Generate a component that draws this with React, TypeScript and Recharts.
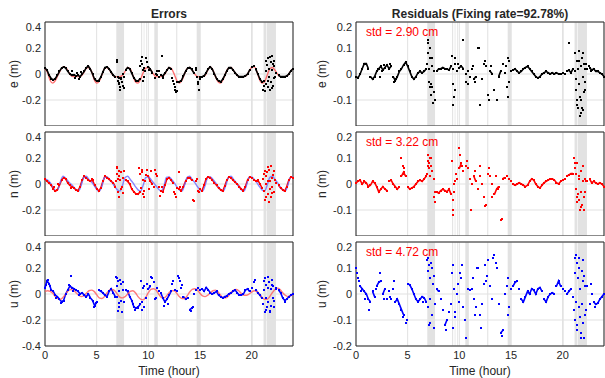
import { ComposedChart, Scatter, Line, XAxis, YAxis, CartesianGrid, ReferenceArea } from 'recharts';

// time grid steps (hours)
const DOT_STEP = 0.2;
const MODEL_STEP = 0.25;

const HOUR_TICKS = [0, 5, 10, 15, 20];
const ERR_TICKS = [-0.4, -0.2, 0, 0.2, 0.4];
const RES_TICKS = [-0.2, -0.1, 0, 0.1, 0.2];

// shaded (re-convergence) periods, hours
const BANDS = [
  [6.9, 7.65], [9.3, 9.4], [9.55, 9.62], [9.8, 9.88], [10.58, 10.92],
  [12.7, 12.8], [14.68, 15.05], [19.95, 20.1], [21.15, 21.4], [21.45, 22.35],
];

const STD_LABELS = ['std = 2.90 cm', 'std = 3.22 cm', 'std = 4.72 cm'];

// ---- east ----
const E_MODEL = [
  .04, .01, -.05, -.07, -.05, -.01, .03, .055,
  .05, .02, -.01, -.02, -.02, -.02, -.015, .01,
  .045, .05, .02, -.04, -.07, -.055, -.01, .04,
  .05, .03, 0, -.02, -.02, -.02, -.01, .02,
  .05, .04, -.01, -.06, -.07, -.04, .01, .045,
  .05, .03, 0, -.02, -.02, -.02, -.01, .02,
  .05, .04, 0, -.05, -.07, -.05, 0, .04,
  .05, .03, 0, -.02, -.02, -.02, -.01, .03,
  .055, .03, -.02, -.06, -.07, -.04, .01, .045,
  .05, .025, 0, -.02, -.02, -.02, -.01, .02,
  .05, .055, .02, -.04, -.07, -.06, -.01, .04,
  .05, .03, 0, -.02, -.02, -.02, -.01, .02,
  .04,
];
const E_ERR = [
  .045, .03, -.01, -.035, -.045, -.035, -.01, .02, .045, .055,
  .045, .02, 0, -.01, -.005, -.015, -.01, -.02, 0, .02,
  .05, .06, .035, 0, -.04, -.055, -.05, -.025, .015, .05,
  .055, .04, .015, -.01, -.02, .09, -.08, -.03, -.11, .03,
  .05, .04, .005, -.03, -.05, -.055, -.035, .08, -.02, .12,
  .055, .035, .01, -.03, .02, -.02, -.01, -.015, .005, .03,
  .05, .04, -.05, -.1, -.13, -.06, -.05, -.015, .02, .045,
  .05, .035, .01, .03, -.06, -.02, -.02, -.015, .01, .04,
  .055, .035, 0, -.035, -.055, -.06, -.04, -.01, .025, .05,
  .05, .03, .01, -.01, -.02, -.02, -.02, -.015, 0, .03,
  .055, .06, .035, 0, -.04, -.06, -.09, .1, -.05, .13,
  -.11, .06, .01, -.01, -.02, -.02, -.02, -.015, 0, .025,
  .04,
];
const E_ERR_OUT = [
  [2.6, .02], [2.9, -.03], [3.1, .01], [3.3, -.035], [3.5, .015],
  [6.95, .1], [7.0, .11], [7.05, -.02], [7.1, -.05], [7.15, -.07], [7.2, -.03], [7.25, -.1], [7.3, -.12],
  [7.35, -.04], [7.45, -.06], [7.5, 0], [7.55, -.09], [7.6, -.02],
  [9.2, .06], [9.3, .1], [9.4, .13], [9.45, .03], [9.5, -.05], [9.55, .05], [9.7, .02], [9.9, .09],
  [10.1, .03], [10.7, 0], [10.8, -.01], [11.0, .02], [11.3, .14], [11.4, -.03],
  [12.3, -.03], [12.5, -.08], [12.6, -.12], [12.7, -.14], [12.75, -.06],
  [14.6, .05], [14.7, -.02], [14.8, -.08], [14.9, -.12], [15.0, -.04],
  [21.1, -.12], [21.2, -.05], [21.3, -.13], [21.35, .02], [21.4, -.08], [21.5, .07], [21.55, -.1],
  [21.6, .12], [21.65, -.02], [21.7, .04], [21.75, -.12], [21.85, .09], [21.9, -.06], [21.95, .14],
  [22.0, .03], [22.05, -.09], [22.1, .08], [22.15, -.03], [22.2, .1], [22.3, -.02],
];
const E_RES = [
  -.01, -.015, 0, .02, .04, .04, .02, -.01, -.02, -.01,
  .01, .02, .03, .015, .025, .035, .02, .03, -.01, -.025,
  -.01, .01, .02, .035, .045, .03, .01, -.01, -.02, -.01,
  .005, .01, .005, .01, .02, .12, -.05, .06, -.1, .01,
  .02, .02, .025, .02, .02, .015, .03, -.12, .06, .01,
  .025, .03, .02, -.03, .01, -.01, .02, -.02, -.01, .1,
  -.12, -.02, .04, .03, -.08, .01, 0, -.06, -.1, -.01,
  .01, .04, .005, -.05, .05, .01, .015, .02, .01, .005,
  .01, .02, .025, .03, .02, .01, 0, -.01, -.015, -.01,
  0, .005, .01, .005, 0, .005, 0, .005, 0, 0,
  .005, 0, .01, .015, .005, .02, .01, -.1, .05, -.15,
  .08, -.06, .02, .025, .015, .02, .01, .01, .005, 0,
  -.01,
];
const E_RES_OUT = [
  [2.1, .02], [2.3, -.01], [2.5, .01], [2.7, .035], [3.3, .04], [3.7, -.03], [3.9, -.02],
  [6.9, .04], [6.95, .13], [7.0, .08], [7.05, .02], [7.1, -.03], [7.15, .1], [7.2, .06], [7.25, -.04],
  [7.3, -.08], [7.35, .03], [7.4, -.05], [7.45, -.11], [7.5, .01], [7.55, -.07],
  [9.3, .07], [9.35, -.04], [9.4, .02], [9.5, -.09], [9.55, .04], [9.6, -.06], [9.9, .04],
  [10.4, .13], [10.6, 0], [10.8, -.04], [11.3, .03], [11.5, -.03], [11.9, .1], [12.5, .05],
  [12.9, -.1], [13.1, .03], [14.5, .03], [14.7, -.09], [14.75, .06], [14.8, -.03], [20.6, .12],
  [21.2, .08], [21.25, -.02], [21.3, -.06], [21.35, .05], [21.4, -.12], [21.45, .02], [21.5, -.13],
  [21.55, -.04], [21.6, .09], [21.65, -.09], [21.7, -.16], [21.75, .03], [21.8, -.1], [21.85, .06],
  [21.9, -.13], [21.95, -.01], [22.0, -.14], [22.05, .04], [22.1, -.07], [22.15, .02], [22.2, -.03],
  [22.3, .04], [22.5, .03], [22.7, .01],
];

// ---- north ----
const N_MODEL = [
  .04, .03, .01, -.02, -.05, -.04, .02, .06,
  .045, .02, 0, -.02, -.045, -.055, -.01, .05,
  .06, .035, .015, -.01, -.04, -.055, -.02, .05,
  .055, .035, .01, -.02, -.045, -.055, -.01, .05,
  .06, .035, .01, -.02, -.045, -.055, -.01, .05,
  .055, .035, .01, -.015, -.04, -.055, -.02, .05,
  .055, .035, .01, -.02, -.045, -.055, -.01, .05,
  .06, .035, .01, -.02, -.045, -.055, -.01, .05,
  .055, .035, .01, -.02, -.045, -.055, -.01, .05,
  .06, .035, .01, -.02, -.045, -.055, -.01, .05,
  .055, .035, .01, -.02, -.045, -.055, -.01, .05,
  .06, .035, .01, -.02, -.045, -.055, -.01, .05,
  .055,
];
const N_ERR = [
  .04, .02, .01, -.01, -.035, -.055, -.045, -.01, .03, .05,
  .04, .01, -.01, -.02, -.03, -.045, -.05, -.02, .03, .06,
  .05, .03, .02, .03, -.01, -.035, -.055, -.03, .02, .06,
  .05, .035, .02, .01, -.02, .12, .06, -.04, .1, .03,
  .02, 0, -.04, -.06, -.075, -.08, -.06, .09, -.05, .07,
  .06, .02, 0, .11, .06, -.02, -.05, -.06, -.01, .04,
  .05, .03, .01, -.08, -.03, -.04, -.05, -.02, .02, .05,
  .05, .03, -.13, .02, -.05, -.04, -.05, -.01, .04, .055,
  .05, .03, .01, -.01, -.03, -.045, -.055, -.015, .03, .055,
  .05, .03, .015, 0, -.02, -.04, -.05, -.02, .03, .055,
  .05, .03, .02, .03, 0, -.03, .08, -.1, .13, .02,
  -.07, .1, .01, -.01, -.03, -.045, -.055, -.02, .03, .055,
  .05,
];
const N_ERR_OUT = [
  [0.9, -.02], [1.3, 0], [2.5, -.03], [4.5, .04],
  [6.9, .02], [6.95, .08], [7.0, .13], [7.05, .04], [7.1, -.06], [7.15, .1], [7.2, -.1], [7.25, .03],
  [7.35, .09], [7.45, -.02], [7.5, .05], [7.55, -.07],
  [9.1, .12], [9.2, .08], [9.3, -.03], [9.35, .11], [9.45, -.08], [9.5, .03], [9.55, -.1], [9.7, .02],
  [9.9, .11], [10.1, -.04], [10.3, .1], [10.5, -.02], [10.7, .08], [11.1, -.09], [11.3, -.02],
  [12.5, -.06], [12.7, -.1], [13.0, .09], [13.1, -.02], [14.3, -.12], [14.7, .04], [14.9, -.06],
  [21.1, .04], [21.2, -.05], [21.25, .1], [21.3, -.12], [21.35, .06], [21.4, 0], [21.5, .09],
  [21.55, -.08], [21.6, .02], [21.65, -.14], [21.7, .11], [21.8, -.04], [21.85, .14], [21.9, -.1],
  [21.95, .05], [22.0, -.02], [22.1, .07], [22.15, -.06], [22.25, .03],
];
const N_RES = [
  .005, .01, .015, 0, .01, .005, -.01, -.005, .01, .005,
  -.01, -.03, -.02, -.01, -.02, -.025, .01, .015, 0, -.01,
  -.02, -.01, .03, .045, .03, -.01, -.02, -.015, -.01, 0,
  .01, .015, .01, .02, .03, .07, .1, .05, -.07, -.03,
  -.035, -.025, -.02, -.025, -.03, -.02, -.04, -.1, .01, .02,
  .06, .08, .05, .07, .06, .02, 0, .03, .01, -.02,
  .03, 0, -.05, -.08, .04, .03, 0, -.04, -.02, -.01,
  -.14, .02, .025, .03, .02, .01, 0, -.005, 0, .005,
  0, -.005, -.01, -.005, .01, .02, .015, 0, -.01, -.015,
  -.005, .005, .01, .015, .02, .02, .015, .005, 0, .01,
  .015, .02, .03, .035, .04, .04, .08, -.05, .03, -.09,
  .01, -.03, .01, .02, .005, .01, .005, 0, .005, 0,
  -.01,
];
const N_RES_OUT = [
  [4.4, .1], [4.5, .07], [4.6, .06],
  [6.9, .04], [6.95, .09], [7.0, .11], [7.05, .06], [7.1, .08], [7.15, .03], [7.25, .1], [7.3, .07],
  [7.35, .05], [7.5, .02], [7.55, -.05], [7.6, -.03],
  [9.3, .09], [9.35, -.06], [9.4, -.12], [9.45, -.03], [9.5, 0], [9.7, .04], [10.0, .14], [10.1, .11],
  [10.3, .07], [10.7, .09], [11.1, -.1], [11.5, .05], [12.0, .07], [12.5, -.085], [12.9, .06],
  [13.2, -.05], [13.5, .03], [13.7, -.02], [14.1, -.135],
  [21.1, .1], [21.2, .06], [21.25, -.02], [21.3, .04], [21.35, -.07], [21.4, .08], [21.5, -.04],
  [21.55, .02], [21.6, -.06], [21.7, -.1], [21.75, .05], [21.8, -.03], [21.9, -.08], [22.0, .07],
  [22.05, -.05], [22.1, -.1], [22.2, .02], [22.3, .01],
];

// ---- up ----
const U_MODEL = [
  .02, .025, .02, .005, -.02, -.035, -.04, -.025,
  0, .025, .035, .03, .01, -.01, -.02, -.015,
  .005, .025, .03, .02, -.005, -.03, -.035, -.02,
  .01, .03, .035, .025, 0, -.025, -.03, -.02,
  0, .02, .025, .01, -.02, -.04, -.045, -.025,
  .01, .035, .04, .03, 0, -.025, -.03, -.015,
  .01, .025, .025, .005, -.02, -.035, -.035, -.015,
  .015, .035, .04, .03, .005, -.015, -.02, -.01,
  .01, .025, .03, .015, -.01, -.03, -.03, -.015,
  .01, .03, .035, .025, .005, -.01, -.01, 0,
  .015, .025, .02, 0, -.025, -.04, -.04, -.02,
  .01, .035, .045, .035, .01, -.01, -.02, -.015,
  -.005,
];
const U_ERR = [
  .05, .1, .08, .03, .02, -.01, -.02, -.04, -.06, -.05,
  0, .03, .06, .05, .04, .03, .02, 0, .01, -.01,
  -.02, 0, -.03, -.05, -.09, -.06, .03, .02, .01, -.01,
  -.02, .02, .04, .01, -.02, .12, -.1, .08, -.06, .03,
  .02, -.02, -.05, -.1, -.11, -.1, -.08, -.12, .06, -.03,
  .04, .06, .12, -.04, .05, .02, .01, -.03, -.06, -.04,
  -.01, .02, .1, .03, .02, .12, .05, -.02, -.04, -.03,
  -.12, -.11, 0, .03, .05, .03, .04, .02, .05, .03,
  .01, 0, .01, .02, -.01, -.02, -.03, -.02, -.015, 0,
  .01, .02, .03, .01, -.01, -.01, 0, .03, .04, .02,
  .05, .09, .03, .01, -.01, -.03, .1, -.12, .05, -.14,
  .07, -.05, .04, .03, .01, -.03, -.05, -.04, -.02, -.01,
  0,
];
const U_ERR_OUT = [
  [0.1, .07], [0.3, .11], [0.5, .06], [1.1, -.03], [1.5, -.07], [2.3, .07], [2.5, .14], [2.7, .02],
  [3.3, -.01], [4.7, -.1], [4.9, -.07],
  [6.9, .13], [6.95, -.02], [7.0, .06], [7.05, -.13], [7.1, .1], [7.15, -.07], [7.2, .02], [7.3, .11],
  [7.35, -.05], [7.45, -.14], [7.5, .03], [7.55, .09],
  [8.5, -.08], [8.7, -.12], [9.0, -.11], [9.3, .1], [9.35, -.06], [9.5, .05], [9.55, -.1], [9.9, .08],
  [10.3, .13], [10.5, .09], [10.7, -.03], [11.5, -.09], [11.9, -.08], [12.3, .08], [12.9, .14],
  [13.1, .1], [13.3, .07], [14.1, -.13], [14.3, -.1], [20.3, .11],
  [21.1, -.08], [21.2, .03], [21.25, -.14], [21.3, .12], [21.35, -.03], [21.4, .07], [21.5, -.1],
  [21.55, .13], [21.6, -.06], [21.7, .09], [21.75, -.13], [21.85, .04], [21.9, -.09], [22.0, .11],
  [22.05, -.03], [22.1, .06], [22.2, -.1], [22.4, .05], [23.2, -.06],
];
const U_RES = [
  .1, .06, .03, .02, .01, 0, -.02, -.03, .01, -.01,
  .03, .045, .05, 0, .02, -.02, .01, -.02, .02, -.03,
  -.02, -.04, -.06, -.08, -.11, .04, .035, .02, 0, -.02,
  -.03, -.02, -.01, -.015, -.03, .14, -.11, .1, -.04, .02,
  .01, -.02, -.06, -.12, -.1, -.07, -.04, .11, -.09, 0,
  -.03, .06, -.05, -.17, .02, .015, .02, -.02, -.05, .1,
  -.08, -.04, .04, .05, .13, .03, -.02, .15, .1, -.04,
  -.15, -.14, 0, .03, -.05, .02, .03, .045, .05, .02,
  -.02, -.03, -.01, .01, 0, .02, .015, 0, .02, .025,
  .01, -.02, -.03, -.01, 0, .005, 0, .03, .05, .03,
  .02, .01, 0, .01, .02, -.01, .14, -.12, .1, -.17,
  .05, -.08, .03, -.04, 0, -.03, -.04, -.035, -.02, -.01,
  0,
];
const U_RES_OUT = [
  [0.1, .08], [0.3, .05], [0.5, .01], [0.9, -.02], [1.3, -.06], [1.9, .02], [2.3, .08], [2.7, -.02],
  [3.3, -.01], [3.7, .05], [4.5, -.09], [4.9, -.1], [6.5, -.03],
  [6.9, .13], [6.95, .09], [7.0, -.05], [7.05, .11], [7.1, -.12], [7.15, .06], [7.2, -.02], [7.3, .12],
  [7.35, -.08], [7.45, .04], [7.5, -.13], [7.55, .07],
  [8.7, -.14], [9.3, .08], [9.35, -.13], [9.5, .02], [9.55, -.07], [9.9, .04], [10.1, .08], [10.3, .11],
  [10.5, -.1], [11.3, .06], [11.5, -.08], [11.7, .1], [12.1, -.13], [12.5, .11], [12.7, .07],
  [13.3, .14], [13.5, .12], [14.1, -.16], [14.7, .06], [14.75, -.08],
  [21.1, -.06], [21.15, .08], [21.2, -.1], [21.25, .15], [21.3, -.03], [21.35, .12], [21.4, -.14],
  [21.5, .06], [21.55, -.05], [21.6, .14], [21.65, -.09], [21.7, .02], [21.75, -.15], [21.85, .09],
  [21.9, -.04], [21.95, .13], [22.0, -.11], [22.05, .07], [22.1, -.17], [22.2, .03], [22.3, -.06],
  [22.7, .04], [23.1, -.05],
];

const series = (vals: number[], step: number) =>
  vals.map((v, i) => ({ t: Math.round(i * step * 100) / 100, v }));
const points = (pairs: number[][]) => pairs.map(([t, v]) => ({ t, v }));

const inBand = (t: number) => BANDS.some(([a, b]) => t >= a - 0.1 && t <= b + 0.1);

// settled part of a trace: band epochs dropped, and a gap marker wherever two epochs jump apart
const steady = (vals: number[], jump: number) => {
  const out: { t: number; v: number | null }[] = [];
  series(vals, DOT_STEP).forEach((p, i) => {
    out.push({ t: p.t, v: inBand(p.t) ? null : p.v });
    if (i < vals.length - 1 && Math.abs(vals[i + 1] - vals[i]) > jump) {
      out.push({ t: p.t + DOT_STEP / 2, v: null });
    }
  });
  return out;
};

const square = (w: number, h: number, color: string) => (p: any) =>
  p.cx == null ? <g /> : (
    <rect x={Math.round(p.cx) - Math.floor(w / 2)} y={Math.round(p.cy) - Math.floor(h / 2)} width={w} height={h} fill={color} />
  );

const TEXT = '#262626';

interface PanelProps {
  left: number;
  top: number;
  yWidth: number;
  domain: [number, number];
  ticks: number[];
  trace: number[];
  extra: number[][];
  dotColor: string;
  model?: number[];
  modelColor?: string;
  modelOnTop?: boolean;
  showX: boolean;
}

const Panel = ({ left, top, yWidth, domain, ticks, trace, extra, dotColor, model, modelColor, modelOnTop, showX }: PanelProps) => {
  const span = domain[1] - domain[0];
  const modelLine = model ? (
    <Line
      data={series(model, MODEL_STEP)}
      dataKey="v"
      type="monotone"
      stroke={modelColor}
      strokeWidth={1.4}
      strokeOpacity={0.8}
      dot={false}
      activeDot={false}
      isAnimationActive={false}
    />
  ) : null;
  return (
    <div style={{ position: 'absolute', left, top: top - 1 }}>
      <ComposedChart
        width={yWidth + 249}
        height={105 + (showX ? 16 : 0)}
        margin={{ top: 1, right: 1, bottom: 0, left: 0 }}
      >
        <CartesianGrid stroke="#e1e1e1" />
        <XAxis
          dataKey="t"
          type="number"
          domain={[0, 24]}
          ticks={HOUR_TICKS}
          hide={!showX}
          height={16}
          axisLine={false}
          tickLine={false}
          tickSize={3}
          tickMargin={2}
          tick={{ fontSize: 11, fill: TEXT }}
        />
        <YAxis
          dataKey="v"
          type="number"
          domain={domain}
          ticks={ticks}
          width={yWidth}
          axisLine={false}
          tickLine={false}
          tickSize={2}
          tickMargin={2}
          allowDataOverflow
          tick={{ fontSize: 11, fill: TEXT }}
          tickFormatter={(v: number) => String(v)}
        />
        {BANDS.map(([a, b], i) => (
          <ReferenceArea key={i} x1={a} x2={b} fill="#e2e2e2" fillOpacity={1} stroke="none" />
        ))}
        {!modelOnTop && modelLine}
        <Line
          data={steady(trace, span * 0.07)}
          dataKey="v"
          type="linear"
          stroke={dotColor}
          strokeWidth={1.6}
          dot={false}
          activeDot={false}
          connectNulls={false}
          isAnimationActive={false}
        />
        <Scatter data={series(trace, DOT_STEP)} shape={square(2, 2, dotColor)} isAnimationActive={false} />
        <Scatter data={points(extra)} shape={square(2, 2, dotColor)} isAnimationActive={false} />
        {modelOnTop && modelLine}
        <ReferenceArea x1={0} x2={24} y1={domain[0]} y2={domain[1]} fill="none" stroke={TEXT} strokeWidth={1} />
      </ComposedChart>
    </div>
  );
};

const Label = ({ x, y, text, rotate, bold, color, size = 12 }: any) => (
  <div
    style={{
      position: 'absolute',
      left: x,
      top: y,
      transform: `translate(-50%, -50%)${rotate ? ' rotate(-90deg)' : ''}`,
      whiteSpace: 'nowrap',
      fontSize: size,
      fontWeight: bold ? 'bold' : 'normal',
      color: color || TEXT,
      lineHeight: 1,
    }}
  >
    {text}
  </div>
);

const ROW_TOPS = [22, 132, 242];
const COMPONENTS = ['e (m)', 'n (m)', 'u (m)'];

const App = () => {
  return (
    <div
      style={{
        position: 'absolute',
        left: 0,
        top: 0,
        width: 605,
        height: 378,
        background: '#fff',
        fontFamily: '"Liberation Sans", Arial, sans-serif',
      }}
    >
      <Panel left={0} top={ROW_TOPS[0]} yWidth={45} domain={[-0.4, 0.4]} ticks={ERR_TICKS} trace={E_ERR} extra={E_ERR_OUT} dotColor="#000" model={E_MODEL} modelColor="#ff4d4d" showX={false} />
      <Panel left={0} top={ROW_TOPS[1]} yWidth={45} domain={[-0.4, 0.4]} ticks={ERR_TICKS} trace={N_ERR} extra={N_ERR_OUT} dotColor="#ff0000" model={N_MODEL} modelColor="#6a6aff" modelOnTop showX={false} />
      <Panel left={0} top={ROW_TOPS[2]} yWidth={45} domain={[-0.4, 0.4]} ticks={ERR_TICKS} trace={U_ERR} extra={U_ERR_OUT} dotColor="#0000ff" model={U_MODEL} modelColor="#ff5a5a" modelOnTop showX />
      <Panel left={300} top={ROW_TOPS[0]} yWidth={56} domain={[-0.2, 0.2]} ticks={RES_TICKS} trace={E_RES} extra={E_RES_OUT} dotColor="#000" showX={false} />
      <Panel left={300} top={ROW_TOPS[1]} yWidth={56} domain={[-0.2, 0.2]} ticks={RES_TICKS} trace={N_RES} extra={N_RES_OUT} dotColor="#ff0000" showX={false} />
      <Panel left={300} top={ROW_TOPS[2]} yWidth={56} domain={[-0.2, 0.2]} ticks={RES_TICKS} trace={U_RES} extra={U_RES_OUT} dotColor="#0000ff" showX />

      <Label x={169} y={14} text="Errors" bold />
      <Label x={480} y={14} text="Residuals (Fixing rate=92.78%)" bold />
      {COMPONENTS.map((c, i) => (
        <Label key={'l' + i} x={14} y={ROW_TOPS[i] + 52} text={c} rotate />
      ))}
      {COMPONENTS.map((c, i) => (
        <Label key={'r' + i} x={322} y={ROW_TOPS[i] + 52} text={c} rotate />
      ))}
      {STD_LABELS.map((s, i) => (
        <div
          key={s}
          style={{ position: 'absolute', left: 366, top: ROW_TOPS[i] + 4, fontSize: 12, color: '#ff0000', lineHeight: 1, whiteSpace: 'nowrap' }}
        >
          {s}
        </div>
      ))}
      <Label x={169} y={371} text="Time (hour)" />
      <Label x={480} y={371} text="Time (hour)" />
    </div>
  );
};

export default App;
